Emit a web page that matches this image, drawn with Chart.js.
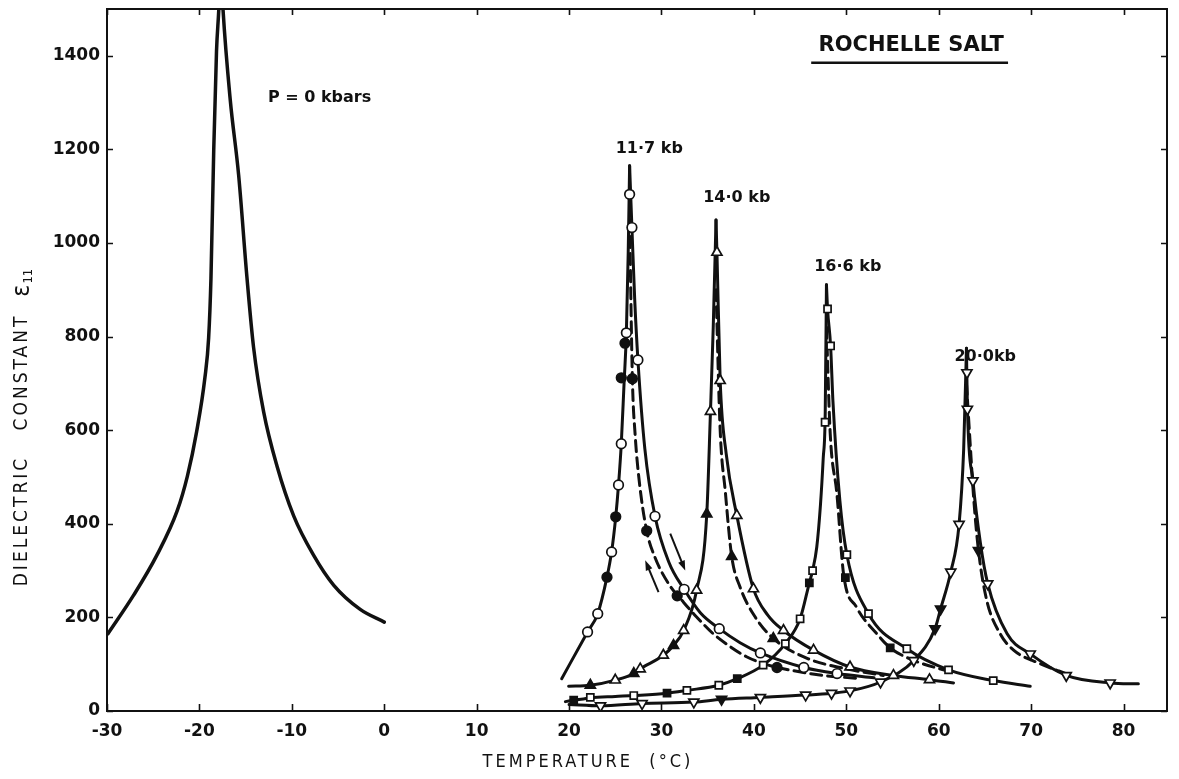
<!DOCTYPE html>
<html><head><meta charset="utf-8">
<script src="https://cdn.jsdelivr.net/npm/chart.js@4.4.1/dist/chart.umd.min.js"></script>
<style>html,body{margin:0;padding:0;background:#fff;overflow:hidden}canvas{display:block}</style>
</head><body>
<canvas id="c" width="1179" height="779"></canvas>
<script>
// ---------- axis ticks ----------
const xTickValues = [-30, -20, -10, 0, 10, 20, 30, 40, 50, 60, 70, 80];
const yTickValues = [0, 200, 400, 600, 800, 1000, 1200, 1400];

// ---------- P = 0 kbars ----------
const p0LeftT = [-29.9, -27.1, -24.6, -22.4, -21.3, -20.3, -19.4, -19.0, -18.75, -18.45, -18.15, -17.9, -17.7];
const p0LeftE = [165, 248, 333, 428, 502, 597, 713, 798, 925, 1199, 1410, 1500, 1600];
const p0RightT = [-17.7, -17.45, -16.66, -15.76, -14.85, -14.14, -13.05, -11.6, -9.8, -7.65, -5.48, -2.6, 0];
const p0RightE = [1600, 1500, 1305, 1146, 925, 777, 639, 523, 417, 333, 269, 217, 190];

// ---------- 11.7 kb (circles) ----------
const kb117LeftT = [19.2, 22.0, 23.1, 24.1, 24.6, 25.05, 25.35, 25.65, 25.95, 26.2, 26.4, 26.55];
const kb117LeftE = [69, 169, 208, 286, 340, 415, 483, 571, 700, 808, 980, 1165];
const kb117RightT = [26.55, 26.8, 27.1, 27.45, 28.2, 29.3, 30.8, 32.45, 34.2, 36.25, 38.5, 40.7, 45.4, 49.0, 53.0];
const kb117RightE = [1165, 1033, 880, 750, 560, 416, 318, 260, 210, 176, 146, 124, 93, 80, 71];
const kb117DashT = [26.55, 26.85, 27.15, 27.6, 28.4, 29.3, 30.9, 32.4, 33.8, 35.6, 37.4, 39.2, 41.4, 44.3, 47.5, 51.0];
const kb117DashE = [1050, 710, 590, 490, 385, 328, 268, 232, 201, 165, 138, 116, 99, 86, 76, 70];
const kb117OpenT = [22.0, 23.1, 24.6, 25.35, 25.65, 26.2, 26.55, 26.8, 27.45, 29.3, 32.45, 36.25, 40.7, 45.4, 49.0];
const kb117OpenE = [169, 208, 340, 483, 571, 808, 1104, 1033, 750, 416, 260, 176, 124, 93, 80];
const kb117FillT = [24.1, 25.05, 25.65, 26.05, 26.85, 28.4, 31.7, 42.5];
const kb117FillE = [286, 415, 712, 786, 710, 385, 246, 93];

// ---------- 14.0 kb (triangles) ----------
const kb140LeftT = [19.95, 22.3, 25.0, 27.0, 27.7, 30.2, 31.3, 32.4, 33.8, 34.9, 35.3, 35.6, 35.9];
const kb140LeftE = [53, 55, 66, 80, 90, 119, 140, 172, 258, 421, 640, 820, 1049];
const kb140RightT = [35.9, 36.0, 36.35, 37.0, 38.15, 39.95, 41.5, 43.2, 46.45, 50.4, 55.1, 59.0, 61.6];
const kb140RightE = [1049, 980, 706, 550, 418, 261, 205, 172, 130, 94, 76, 67, 60];
const kb140DashT = [35.9, 36.35, 36.9, 37.6, 38.5, 40.0, 42.1, 45.7, 50.0, 54.0];
const kb140DashE = [900, 600, 470, 330, 265, 205, 155, 113, 90, 76];
const kb140OpenT = [25.0, 27.7, 30.2, 32.4, 33.8, 35.3, 36.0, 36.35, 38.15, 39.95, 43.2, 46.45, 50.4, 55.1, 59.0];
const kb140OpenE = [66, 90, 119, 172, 258, 640, 980, 706, 418, 261, 172, 130, 94, 76, 67];
const kb140FillT = [22.3, 27.0, 31.3, 34.9, 37.6, 42.1];
const kb140FillE = [55, 80, 140, 421, 330, 155];

// ---------- 16.6 kb (squares) ----------
const kb166LeftT = [19.6, 22.3, 25.0, 27.0, 30.6, 32.75, 36.2, 38.2, 41.0, 43.4, 45.0, 46.0, 46.35, 46.8, 47.2, 47.5, 47.72, 47.85];
const kb166LeftE = [20, 28, 31, 33, 38, 44, 55, 69, 98, 144, 197, 274, 300, 350, 440, 540, 640, 911];
const kb166RightT = [47.85, 47.97, 48.3, 48.55, 49.3, 50.06, 52.4, 56.55, 61.06, 65.9, 69.9];
const kb166RightE = [911, 859, 780, 663, 450, 334, 208, 133, 88, 65, 53];
const kb166DashT = [47.85, 48.26, 48.98, 49.7, 51.1, 53.3, 54.75, 57.3, 61.0];
const kb166DashE = [820, 592, 464, 293, 222, 165, 135, 108, 85];
const kb166OpenT = [22.3, 27.0, 32.75, 36.2, 41.0, 43.4, 45.0, 46.35, 47.7, 47.97, 48.3, 50.06, 52.4, 56.55, 61.06, 65.9];
const kb166OpenE = [29, 33, 44, 55, 98, 144, 197, 300, 617, 859, 780, 334, 208, 133, 88, 65];
const kb166FillT = [20.5, 30.6, 38.2, 46.0, 49.9, 54.75];
const kb166FillE = [23, 38, 69, 274, 285, 135];

// ---------- 20.0 kb (inverted triangles) ----------
const kb200LeftT = [20.0, 23.4, 27.9, 33.5, 36.5, 40.7, 45.6, 48.4, 50.4, 53.7, 57.3, 59.6, 60.2, 61.3, 62.2, 62.7, 63.0];
const kb200LeftE = [14, 11, 16, 19, 25, 29, 34, 38, 43, 62, 108, 176, 218, 297, 399, 560, 775];
const kb200RightT = [63.0, 63.1, 63.7, 64.5, 65.3, 67.4, 69.9, 73.8, 78.55, 81.6];
const kb200RightE = [775, 650, 492, 360, 272, 165, 122, 76, 60, 58];
const kb200DashT = [63.0, 63.5, 63.8, 64.3, 65.2, 66.65, 68.1, 71.0, 74.0];
const kb200DashE = [700, 540, 450, 343, 236, 165, 130, 101, 78];
const kb200OpenT = [23.4, 27.9, 33.5, 40.7, 45.6, 48.4, 50.4, 53.7, 57.3, 61.3, 62.2, 63.05, 63.1, 63.7, 65.3, 69.9, 73.8, 78.55];
const kb200OpenE = [11, 16, 19, 29, 34, 38, 43, 62, 108, 297, 399, 723, 645, 492, 272, 122, 76, 60];
const kb200FillT = [36.5, 59.6, 60.2, 64.3];
const kb200FillE = [25, 176, 218, 343];

// ---------- arrows on the 11.7 kb curves ----------
const arrowFromT = [30.95, 29.68];
const arrowFromE = [379, 254];
const arrowToT = [32.57, 28.24];
const arrowToE = [300, 322];

// ---------- annotations ----------
const labelTexts = ['P = 0 kbars', '11·7 kb', '14·0 kb', '16·6 kb', '20·0kb', 'ROCHELLE SALT'];
const labelT = [-7.0, 28.68, 38.15, 50.16, 65.03, 57.02];
const labelE = [1310, 1201, 1097, 949, 757, 1421];
const labelSize = [16, 16, 16, 16, 16, 21];
const underlineT = [46.2, 67.5];
const underlineE = 1385;

const xTitle = 'TEMPERATURE  (°C)';
const yTitle = 'DIELECTRIC   CONSTANT  ';
const yTitleSymbol = 'ε';
const yTitleSub = '11';

const INK = '#111';
function pts(T, E) { return T.map((t, i) => ({ x: t, y: E[i] })); }
function curve(T, E, dashed, width) {
  return {
    data: pts(T, E), showLine: true, borderColor: INK, borderWidth: width || 3,
    borderDash: dashed ? [11, 6] : [], pointRadius: 0, pointHoverRadius: 0,
    cubicInterpolationMode: 'monotone', fill: false, order: 2, borderCapStyle: 'round'
  };
}
function marks(T, E, style, filled, radius, rotation) {
  return {
    data: pts(T, E), showLine: false, pointStyle: style, pointRadius: radius,
    pointHoverRadius: radius, pointRotation: rotation || 0,
    pointBackgroundColor: filled ? INK : '#fff', pointBorderColor: INK,
    pointBorderWidth: 1.7, order: 1
  };
}

const datasets = [
  curve(p0LeftT, p0LeftE, false, 3.5), curve(p0RightT, p0RightE, false, 3.5),
  curve(kb117LeftT, kb117LeftE), curve(kb117RightT, kb117RightE), curve(kb117DashT, kb117DashE, true),
  curve(kb140LeftT, kb140LeftE), curve(kb140RightT, kb140RightE), curve(kb140DashT, kb140DashE, true),
  curve(kb166LeftT, kb166LeftE), curve(kb166RightT, kb166RightE), curve(kb166DashT, kb166DashE, true),
  curve(kb200LeftT, kb200LeftE), curve(kb200RightT, kb200RightE), curve(kb200DashT, kb200DashE, true),
  marks(kb117OpenT, kb117OpenE, 'circle', false, 4.8), marks(kb117FillT, kb117FillE, 'circle', true, 4.8),
  marks(kb140OpenT, kb140OpenE, 'triangle', false, 5.8), marks(kb140FillT, kb140FillE, 'triangle', true, 5.8),
  marks(kb166OpenT, kb166OpenE, 'rect', false, 5), marks(kb166FillT, kb166FillE, 'rect', true, 5),
  marks(kb200OpenT, kb200OpenE, 'triangle', false, 5.8, 180), marks(kb200FillT, kb200FillE, 'triangle', true, 5.8, 180)
];

const tickFont = { family: '"DejaVu Sans", sans-serif', weight: 'bold', size: 17 };

const decor = {
  id: 'decor',
  beforeDatasetsDraw(chart) {
    const { ctx, chartArea: a, scales: { x, y } } = chart;
    ctx.save();
    ctx.strokeStyle = INK;
    ctx.lineWidth = 2;
    ctx.strokeRect(a.left, a.top, a.right - a.left, a.bottom - a.top);
    ctx.lineWidth = 1.6;
    ctx.beginPath();
    x.ticks.forEach(t => {
      const px = Math.round(x.getPixelForValue(t.value)) + 0.5;
      ctx.moveTo(px, a.bottom); ctx.lineTo(px, a.bottom - 7);
      ctx.moveTo(px, a.top); ctx.lineTo(px, a.top + 6);
    });
    y.ticks.forEach(t => {
      const py = Math.round(y.getPixelForValue(t.value)) + 0.5;
      ctx.moveTo(a.left, py); ctx.lineTo(a.left + 6, py);
      ctx.moveTo(a.right, py); ctx.lineTo(a.right - 6, py);
    });
    ctx.stroke();
    ctx.restore();
  },
  afterDatasetsDraw(chart) {
    const { ctx, scales: { x, y } } = chart;
    ctx.save();
    ctx.fillStyle = INK; ctx.strokeStyle = INK;
    ctx.textAlign = 'center'; ctx.textBaseline = 'middle';
    labelTexts.forEach((txt, i) => {
      ctx.font = 'bold ' + labelSize[i] + 'px "DejaVu Sans", sans-serif';
      ctx.fillText(txt, x.getPixelForValue(labelT[i]), y.getPixelForValue(labelE[i]));
    });
    ctx.lineWidth = 2.5;
    ctx.beginPath();
    ctx.moveTo(x.getPixelForValue(underlineT[0]), y.getPixelForValue(underlineE));
    ctx.lineTo(x.getPixelForValue(underlineT[1]), y.getPixelForValue(underlineE));
    ctx.stroke();
    ctx.lineWidth = 2;
    arrowFromT.forEach((t0, i) => {
      const x0 = x.getPixelForValue(t0), y0 = y.getPixelForValue(arrowFromE[i]);
      const x1 = x.getPixelForValue(arrowToT[i]), y1 = y.getPixelForValue(arrowToE[i]);
      const ang = Math.atan2(y1 - y0, x1 - x0);
      ctx.beginPath(); ctx.moveTo(x0, y0); ctx.lineTo(x1 - 6 * Math.cos(ang), y1 - 6 * Math.sin(ang)); ctx.stroke();
      ctx.beginPath();
      ctx.moveTo(x1, y1);
      ctx.lineTo(x1 - 10 * Math.cos(ang) + 3.5 * Math.sin(ang), y1 - 10 * Math.sin(ang) - 3.5 * Math.cos(ang));
      ctx.lineTo(x1 - 10 * Math.cos(ang) - 3.5 * Math.sin(ang), y1 - 10 * Math.sin(ang) + 3.5 * Math.cos(ang));
      ctx.closePath(); ctx.fill();
    });
    const titleFamily = '"DejaVu Sans Condensed", "Liberation Sans Narrow", "DejaVu Sans", sans-serif';
    ctx.font = '18px ' + titleFamily;
    try { ctx.letterSpacing = '3px'; } catch (e) {}
    ctx.textAlign = 'center'; ctx.textBaseline = 'middle';
    ctx.fillText(xTitle, 588, 762);
    ctx.translate(22, 428);
    ctx.rotate(-Math.PI / 2);
    ctx.textAlign = 'left';
    ctx.font = '19px ' + titleFamily;
    try { ctx.letterSpacing = '3px'; } catch (e) {}
    const w1 = ctx.measureText(yTitle).width;
    try { ctx.letterSpacing = '0px'; } catch (e) {}
    ctx.font = '25px ' + titleFamily;
    const w2 = ctx.measureText(yTitleSymbol).width;
    ctx.font = '13px ' + titleFamily;
    const w3 = ctx.measureText(yTitleSub).width;
    const start = -(w1 + w2 + w3) / 2;
    ctx.font = '19px ' + titleFamily;
    try { ctx.letterSpacing = '3px'; } catch (e) {}
    ctx.fillText(yTitle, start, 0);
    try { ctx.letterSpacing = '0px'; } catch (e) {}
    ctx.font = '25px ' + titleFamily;
    ctx.fillText(yTitleSymbol, start + w1, 0);
    ctx.font = '13px ' + titleFamily;
    ctx.fillText(yTitleSub, start + w1 + w2 + 1, 7);
    ctx.restore();
  }
};

new Chart(document.getElementById('c'), {
  type: 'scatter',
  data: { datasets },
  options: {
    responsive: false, animation: false, devicePixelRatio: 1, events: [],
    layout: { padding: { top: 9, right: 12, left: 0, bottom: 0 } },
    plugins: { legend: { display: false }, tooltip: { enabled: false } },
    scales: {
      x: {
        type: 'linear', min: -30, max: 84.7,
        afterFit(s) { s.height = 68; s.paddingLeft = 0; s.paddingRight = 0; },
        afterBuildTicks(s) { s.ticks = xTickValues.map(v => ({ value: v })); },
        grid: { display: false, drawTicks: false }, border: { display: false },
        ticks: { padding: 10, color: INK, font: tickFont, maxRotation: 0, autoSkip: false, callback: v => String(Math.round(v)) }
      },
      y: {
        type: 'linear', min: 0, max: 1500,
        afterFit(s) { s.width = 107; s.paddingTop = 0; s.paddingBottom = 0; },
        afterBuildTicks(s) { s.ticks = yTickValues.map(v => ({ value: v })); },
        grid: { display: false, drawTicks: false }, border: { display: false },
        ticks: { padding: 7, color: INK, font: tickFont, autoSkip: false, callback: v => String(Math.round(v)) }
      }
    }
  },
  plugins: [decor]
});
</script></body></html>
